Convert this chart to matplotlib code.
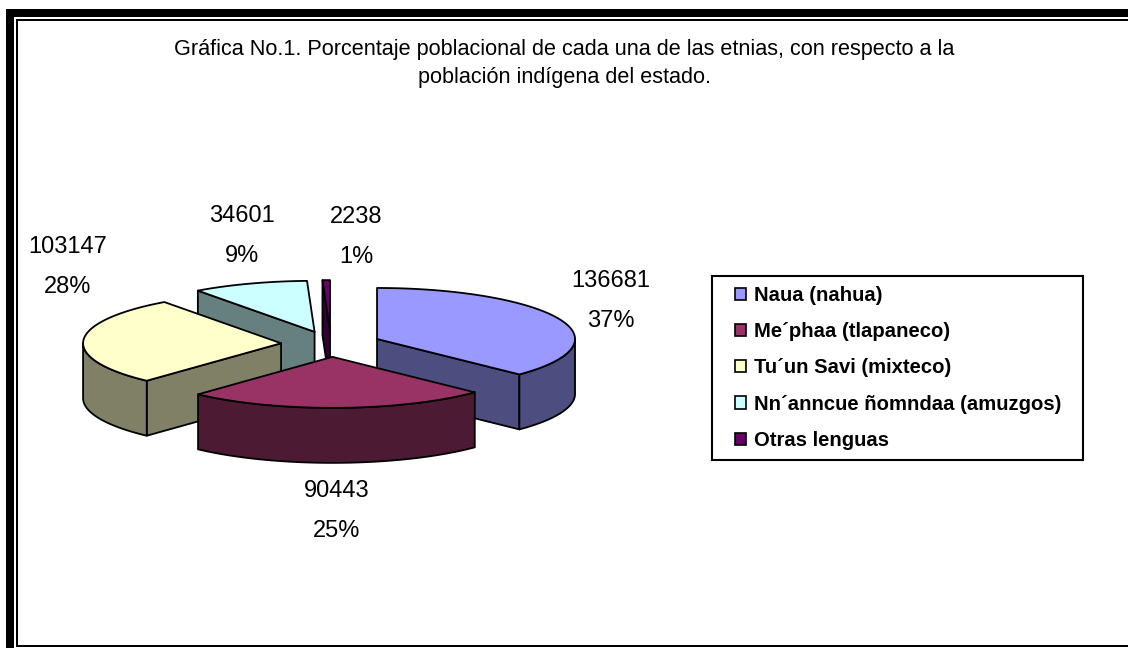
import numpy as np
import matplotlib.pyplot as plt
from matplotlib.patches import Polygon, Rectangle, Patch

# datos
etnias = ['Naua (nahua)', 'Me´phaa (tlapaneco)', 'Tu´un Savi (mixteco)',
          'Nn´anncue ñomndaa (amuzgos)', 'Otras lenguas']
poblacion = [136681, 90443, 103147, 34601, 2238]
colores = ['#9999FF', '#993366', '#FFFFCC', '#CCFFFF', '#660066']
laterales = ['#4D4D80', '#4D1A33', '#808066', '#668080', '#330033']

titulo = ['Gráfica No.1. Porcentaje poblacional de cada una de las etnias, con respecto a la',
          'población indígena del estado.']

# posicion de las etiquetas (pixeles)
pos_etiq = [(611, 281), (337, 491), (68, 247), (242, 216), (356, 217)]

# geometria del pastel 3d (pixeles)
cx, cy = 331, 344
rx, ry = 198, 51
prof = 55
expl = 50

plt.rcParams['font.family'] = ['Liberation Sans', 'DejaVu Sans']

fig = plt.figure(figsize=(11.28, 6.48), dpi=100)
ax = fig.add_axes([0, 0, 1, 1])
ax.set_xlim(0, 1128)
ax.set_ylim(648, 0)
ax.axis('off')

# marco
ax.add_patch(Rectangle((6, 9), 1122, 8, color='black', lw=0))
ax.add_patch(Rectangle((6, 9), 8, 639, color='black', lw=0))
ax.add_patch(Rectangle((16, 19), 1112, 2, color='black', lw=0))
ax.add_patch(Rectangle((16, 19), 2, 628, color='black', lw=0))
ax.add_patch(Rectangle((16, 645), 1112, 2, color='black', lw=0))

total = sum(poblacion)
angulos = np.cumsum([0] + [360 * v / total for v in poblacion])

rebanadas = []
for i in range(len(poblacion)):
    a0, a1 = angulos[i], angulos[i + 1]
    mid = np.radians((a0 + a1) / 2)
    ox = cx + expl * np.sin(mid)
    oy = cy - expl * (ry / rx) * np.cos(mid)
    rebanadas.append((oy, i, ox, a0, a1))

def arco(ox, oy, a0, a1, dy=0):
    t = np.radians(np.linspace(a0, a1, max(int(abs(a1 - a0)) + 2, 3)))
    return np.column_stack([ox + rx * np.sin(t), oy - ry * np.cos(t) + dy])

kw = dict(edgecolor='black', lw=1.3, joinstyle='round')

for oy, i, ox, a0, a1 in sorted(rebanadas):
    # pared radial inicial
    if np.sin(np.radians(a0)) < -1e-6:
        p = arco(ox, oy, a0, a0)[0]
        ax.add_patch(Polygon([(ox, oy), p, (p[0], p[1] + prof), (ox, oy + prof)],
                             facecolor=laterales[i], **kw))
    # pared radial final
    if np.sin(np.radians(a1)) > 1e-6:
        p = arco(ox, oy, a1, a1)[0]
        ax.add_patch(Polygon([(ox, oy), p, (p[0], p[1] + prof), (ox, oy + prof)],
                             facecolor=laterales[i], **kw))
    # pared exterior (solo la parte de enfrente)
    b0, b1 = max(a0, 90), min(a1, 270)
    if b1 > b0:
        sup = arco(ox, oy, b0, b1)
        inf = arco(ox, oy, b0, b1, prof)[::-1]
        ax.add_patch(Polygon(np.vstack([sup, inf]), facecolor=laterales[i], **kw))
    # cara superior
    ax.add_patch(Polygon(np.vstack([[ox, oy], arco(ox, oy, a0, a1)]),
                         facecolor=colores[i], **kw))

# etiquetas
for i, v in enumerate(poblacion):
    x, y = pos_etiq[i]
    ax.text(x, y, str(v), ha='center', va='center', fontsize=17)
    ax.text(x, y + 40, '%d%%' % round(100 * v / total), ha='center', va='center', fontsize=17)

# titulo
ax.text(564, 49, titulo[0], ha='center', va='center', fontsize=15.6)
ax.text(564, 77, titulo[1], ha='center', va='center', fontsize=15.6)

# leyenda
ax.add_patch(Rectangle((712, 276), 371, 184, facecolor='white', edgecolor='black', lw=1.5))
handles = [Patch(facecolor=c, edgecolor='black', lw=1.2) for c in colores]
ax.legend(handles, etnias, loc='upper left', bbox_to_anchor=(735 / 1128, 1 - 286 / 648),
          bbox_transform=fig.transFigure, frameon=False, borderpad=0, borderaxespad=0,
          prop={'weight': 'bold', 'size': 14.6}, handlelength=0.55, handleheight=0.55,
          handletextpad=0.4, labelspacing=0.85)

fig.savefig('out.png', dpi=100)
